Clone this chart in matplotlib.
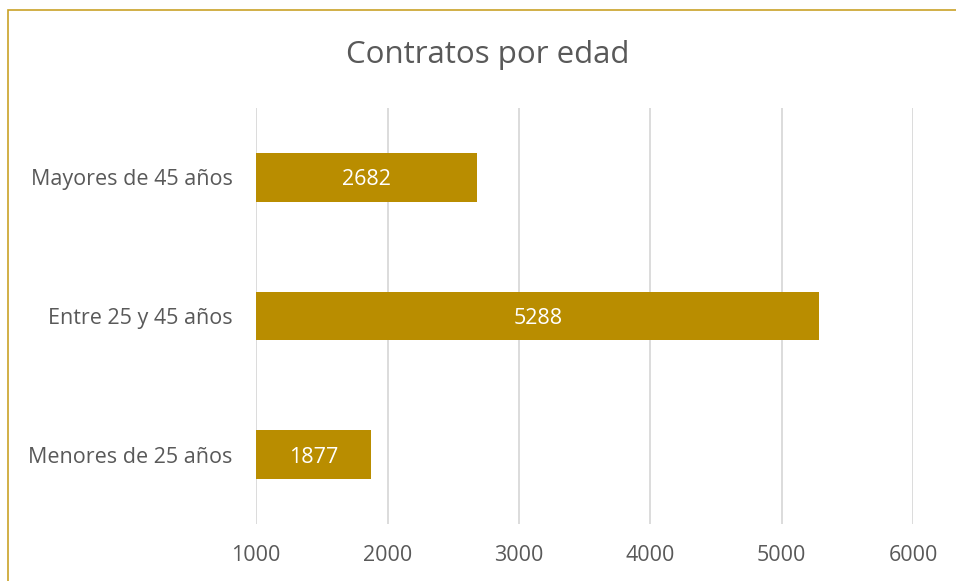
import matplotlib
matplotlib.use('Agg')
import matplotlib.pyplot as plt
from matplotlib.patches import Rectangle

# Data
categories = ['Menores de 25 años', 'Entre 25 y 45 años', 'Mayores de 45 años']
values = [1877, 5288, 2682]
x_ticks = [1000, 2000, 3000, 4000, 5000, 6000]

plt.rcParams['font.family'] = ['Open Sans', 'DejaVu Sans']
text_color = '#595959'
bar_color = '#B98D00'

fig = plt.figure(figsize=(9.56, 5.81), dpi=100)
ax = fig.add_axes([0.268, 0.0981, 0.687, 0.716])

base = x_ticks[0]
bars = ax.barh(range(len(categories)), [v - base for v in values], left=base,
               height=0.35, color=bar_color, zorder=3)

for i, v in enumerate(values):
    ax.text(base + (v - base) / 2, i, str(v), ha='center', va='center_baseline',
            color='white', fontsize=15.5, zorder=4)

ax.set_xlim(x_ticks[0], x_ticks[-1])
ax.set_ylim(-0.5, len(categories) - 0.5)
ax.set_xticks(x_ticks)
ax.set_xticklabels([str(t) for t in x_ticks])
ax.set_yticks(range(len(categories)))
ax.set_yticklabels(categories)
ax.tick_params(axis='both', length=0, labelsize=15.5, labelcolor=text_color)
ax.tick_params(axis='x', pad=15)
ax.tick_params(axis='y', pad=17)
ax.grid(axis='x', color='#D9D9D9', linewidth=1.3, zorder=0)
for s in ax.spines.values():
    s.set_visible(False)

fig.text(0.51, 0.905, 'Contratos por edad', ha='center', va='center',
         fontsize=22.5, color=text_color)

# chart border
fig.patches.append(Rectangle((8 / 956, -0.05), 1.1, (581 - 10) / 581 + 0.05,
                             transform=fig.transFigure, fill=False,
                             edgecolor='#C9A227', linewidth=1.2))

fig.savefig('out.png', dpi=100)
